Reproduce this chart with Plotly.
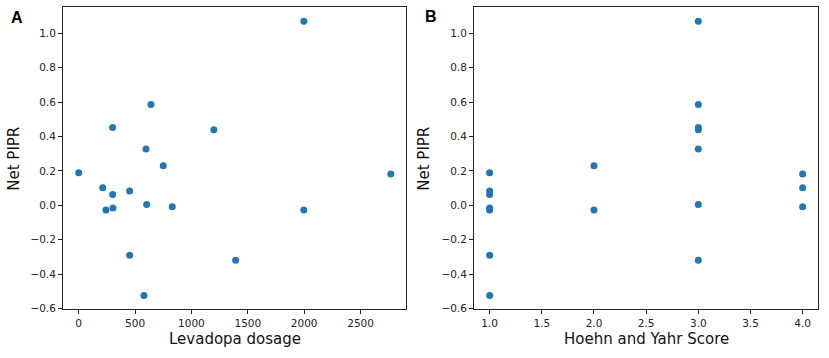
import plotly.graph_objects as go

# Data
levodopa_dosage = [0, 213, 301, 452, 242, 304, 603, 830, 1997, 452, 1392, 579,
                   301, 641, 597, 750, 1199, 1997, 2768]
hoehn_yahr = [1, 4, 1, 1, 1, 1, 3, 4, 2, 1, 3, 1,
              3, 3, 3, 2, 3, 3, 4]
net_pipr = [0.19, 0.102, 0.063, 0.083, -0.027, -0.015, 0.004, -0.009, -0.027, -0.291, -0.32, -0.525,
            0.452, 0.586, 0.328, 0.23, 0.439, 1.071, 0.182]

y_ticks = [-0.6, -0.4, -0.2, 0.0, 0.2, 0.4, 0.6, 0.8, 1.0]
y_ticktext = [("\u2212" if v < 0 else "") + f"{abs(v):.1f}" for v in y_ticks]
x1_ticks = [0, 500, 1000, 1500, 2000, 2500]
x1_ticktext = [str(v) for v in x1_ticks]
x2_ticks = [1.0, 1.5, 2.0, 2.5, 3.0, 3.5, 4.0]
x2_ticktext = [f"{v:.1f}" for v in x2_ticks]

W, H = 829, 358
color = "#1f77b4"
font = "DejaVu Sans"

fig = go.Figure()
fig.add_trace(go.Scatter(x=levodopa_dosage, y=net_pipr, mode="markers",
                         marker=dict(color=color, size=7), xaxis="x", yaxis="y",
                         showlegend=False))
fig.add_trace(go.Scatter(x=hoehn_yahr, y=net_pipr, mode="markers",
                         marker=dict(color=color, size=7), xaxis="x2", yaxis="y2",
                         showlegend=False))

ydom = [1 - 313.7 / H, 1 - 7.5 / H]
axis_common = dict(showgrid=False, zeroline=False, showline=True, linecolor="#222",
                   linewidth=1, mirror=True, ticks="outside", ticklen=4,
                   tickcolor="#222", tickfont=dict(family=font, size=10.5, color="#222"))

fig.update_layout(
    width=W, height=H,
    margin=dict(l=0, r=0, t=0, b=0),
    paper_bgcolor="white", plot_bgcolor="white",
    hovermode=False,
    xaxis=dict(domain=[63 / W, 406 / W], range=[-139, 2903], tickmode="array",
               tickvals=x1_ticks, ticktext=x1_ticktext, anchor="y", **axis_common),
    yaxis=dict(domain=ydom, range=[-0.605, 1.151], tickmode="array",
               tickvals=y_ticks, ticktext=y_ticktext, anchor="x", **axis_common),
    xaxis2=dict(domain=[474 / W, 818.3 / W], range=[0.85, 4.15], tickmode="array",
                tickvals=x2_ticks, ticktext=x2_ticktext, anchor="y2", **axis_common),
    yaxis2=dict(domain=ydom, range=[-0.605, 1.151], tickmode="array",
                tickvals=y_ticks, ticktext=y_ticktext, anchor="x2", **axis_common),
)

title_font = dict(family=font, size=15, color="#111")
ann = [
    dict(text="Levadopa dosage", x=234.5 / W, y=1 - 344 / H, font=title_font),
    dict(text="Hoehn and Yahr Score", x=646 / W, y=1 - 344 / H, font=title_font),
    dict(text="Net PIPR", x=14 / W, y=1 - 161 / H, font=title_font, textangle=-90),
    dict(text="Net PIPR", x=424 / W, y=1 - 161 / H, font=title_font, textangle=-90),
    dict(text="<b>A</b>", x=17 / W, y=1 - 17.5 / H,
         font=dict(family="Liberation Sans", size=16, color="black")),
    dict(text="<b>B</b>", x=431 / W, y=1 - 17 / H,
         font=dict(family="Liberation Sans", size=16, color="black")),
]
for a in ann:
    fig.add_annotation(xref="paper", yref="paper", showarrow=False,
                       xanchor="center", yanchor="middle", **a)

fig.write_html("out.html",
               config={"displayModeBar": False, "staticPlot": True},
               post_script="document.body.style.margin='0';document.body.style.padding='0';"
                           "document.body.style.overflow='hidden';")
